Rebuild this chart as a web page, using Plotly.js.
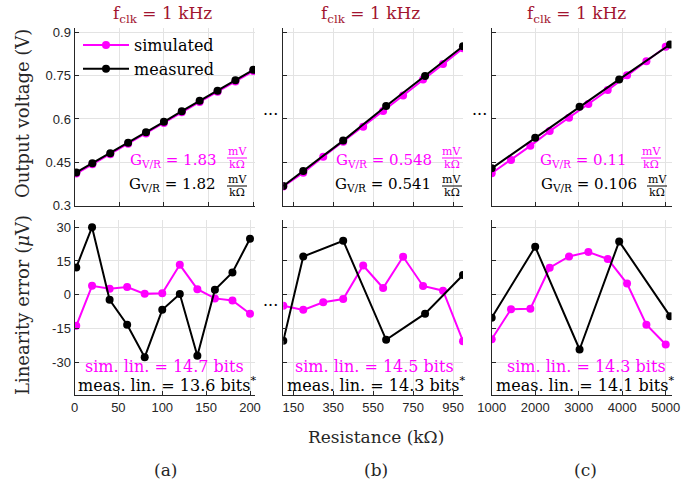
<!DOCTYPE html>
<html>
<head>
<meta charset="utf-8">
<script src="https://cdn.plot.ly/plotly-3.0.1.min.js"></script>
<style>html,body{margin:0;padding:0;background:#fff;}#chart{width:689px;height:487px;}</style>
</head>
<body>
<div id="chart"></div>
<script>
// ---------- data ----------
const xA = [2, 20, 40, 60, 80, 100, 120, 140, 160, 180, 200];
const voutSimA  = [0.411, 0.443, 0.478, 0.514, 0.550, 0.586, 0.623, 0.659, 0.694, 0.730, 0.766];
const voutMeasA = [0.415, 0.447, 0.481, 0.518, 0.554, 0.590, 0.627, 0.663, 0.698, 0.734, 0.770];
const errSimA  = [-13.8, 4.0, 2.7, 3.4, 0.4, 0.7, 13.3, 2.5, -1.6, -2.5, -8.4];
const errMeasA = [12.1, 30.0, -2.2, -13.3, -27.7, -6.7, 0.3, -27.1, 2.2, 9.9, 24.9];

const xSimB  = [100, 200, 300, 400, 500, 600, 700, 800, 900, 1000];
const xMeasB = [100, 200, 400, 615, 810, 1000];
const voutSimB  = [0.366, 0.414, 0.469, 0.521, 0.573, 0.628, 0.681, 0.737, 0.790, 0.845];
const voutMeasB = [0.368, 0.420, 0.525, 0.645, 0.749, 0.852];
const errSimB  = [-4.9, -6.7, -3.3, -1.9, 13.0, 3.0, 16.9, 3.9, 1.8, -20.6];
const errMeasB = [-20.4, 17.0, 24.0, -20.0, -8.4, 8.8];

const xSimC  = [1000, 1444, 1889, 2333, 2778, 3222, 3667, 4111, 4556, 5000];
const xMeasC = [1000, 2000, 3020, 3930, 5100];
const voutSimC  = [0.412, 0.458, 0.507, 0.558, 0.604, 0.652, 0.700, 0.751, 0.800, 0.850];
const voutMeasC = [0.429, 0.535, 0.642, 0.737, 0.858];
const errSimC  = [-19.7, -6.4, -6.2, 12.0, 17.0, 19.0, 15.9, 5.0, -13.3, -22.1];
const errMeasC = [-10.2, 21.3, -24.3, 23.7, -9.5];

const gainSim  = ['1.83', '0.548', '0.11'];
const gainMeas = ['1.82', '0.541', '0.106'];
const linSim  = ['14.7', '14.5', '14.3'];
const linMeas = ['13.6', '14.3', '14.1'];

const voutTicks = [0.3, 0.45, 0.6, 0.75, 0.9];
const voutTickText = ['0.3', '0.45', '0.6', '0.75', '0.9'];
const errTicks = [-30, -15, 0, 15, 30];
const errTickText = ['-30', '-15', '0', '15', '30'];
const xTicksA = [0, 50, 100, 150, 200];
const xTicksB = [150, 350, 550, 750, 950];
const xTicksC = [1000, 2000, 3000, 4000, 5000];

// ---------- styling ----------
const W = 689, H = 487;
const px = v => v / W;
const py = v => 1 - v / H;
const SERIF = 'DejaVu Serif, serif';
const SANS = 'Liberation Sans, Arial, sans-serif';
const MAG = '#ff00ff', BLK = '#000000', AX = '#262626', TITLE = '#A2142F', GRID = '#e3e3e3';

function trace(x, y, color, xa, ya, name, show) {
  return {x: x, y: y, xaxis: xa, yaxis: ya, type: 'scatter', mode: 'lines+markers',
    name: name, showlegend: show, legendgroup: name,
    line: {color: color, width: 2}, marker: {color: color, size: 8}};
}

const data = [
  trace(xA, voutSimA, MAG, 'x', 'y', 'simulated', true),
  trace(xA, voutMeasA, BLK, 'x', 'y', 'measured', true),
  trace(xSimB, voutSimB, MAG, 'x2', 'y2', 'simulated', false),
  trace(xMeasB, voutMeasB, BLK, 'x2', 'y2', 'measured', false),
  trace(xSimC, voutSimC, MAG, 'x3', 'y3', 'simulated', false),
  trace(xMeasC, voutMeasC, BLK, 'x3', 'y3', 'measured', false),
  trace(xA, errSimA, MAG, 'x4', 'y4', 'simulated', false),
  trace(xA, errMeasA, BLK, 'x4', 'y4', 'measured', false),
  trace(xSimB, errSimB, MAG, 'x5', 'y5', 'simulated', false),
  trace(xMeasB, errMeasB, BLK, 'x5', 'y5', 'measured', false),
  trace(xSimC, errSimC, MAG, 'x6', 'y6', 'simulated', false),
  trace(xMeasC, errMeasC, BLK, 'x6', 'y6', 'measured', false)
];

const colA = [px(74.5), px(255)];
const colB = [px(283.3), px(463)];
const colC = [px(491.7), px(671.5)];
const rowTop = [py(205.6), py(28)];
const rowBot = [py(395), py(220)];

function xax(dom, range, ticks, anchor, labels) {
  return {domain: dom, range: range, anchor: anchor, tickmode: 'array', tickvals: ticks,
    ticktext: ticks.map(String), showticklabels: labels,
    ticks: 'inside', ticklen: 4, tickwidth: 1, tickcolor: AX,
    showline: true, linecolor: AX, linewidth: 1, mirror: false,
    showgrid: true, gridcolor: GRID, gridwidth: 1, zeroline: false,
    tickfont: {family: SANS, size: 13, color: AX}, fixedrange: true};
}
function yax(dom, range, ticks, text, anchor, labels) {
  return {domain: dom, range: range, anchor: anchor, tickmode: 'array', tickvals: ticks,
    ticktext: text, showticklabels: labels,
    ticks: 'inside', ticklen: 4, tickwidth: 1, tickcolor: AX,
    showline: true, linecolor: AX, linewidth: 1, mirror: false,
    showgrid: true, gridcolor: GRID, gridwidth: 1, zeroline: false,
    tickfont: {family: SANS, size: 13, color: AX}, fixedrange: true};
}

const annotations = [];
const shapes = [];
function ann(text, x, y, opts) {
  annotations.push(Object.assign({text: text, x: px(x), y: py(y), xref: 'paper', yref: 'paper',
    showarrow: false, xanchor: 'center', yanchor: 'middle',
    font: {family: SERIF, size: 17, color: AX}}, opts || {}));
}

// column titles
[162, 370, 576].forEach(cx => ann('f<sub>clk</sub> = 1 kHz', cx, 15, {font: {family: SERIF, size: 17, color: TITLE}}));
// axis titles
ann('Output voltage (V)', 22, 114, {textangle: -90, font: {family: SERIF, size: 18, color: AX}});
ann('Linearity error (<i>μ</i>V)', 22, 305, {textangle: -90, font: {family: SERIF, size: 18, color: AX}});
ann('Resistance (kΩ)', 376, 437, {font: {family: SERIF, size: 17, color: AX}});
ann('(a)', 165, 470);
ann('(b)', 376, 470);
ann('(c)', 585, 470);
// continuation dots
ann('···', 270, 114, {font: {family: SERIF, size: 16, color: BLK}});
ann('···', 479, 114, {font: {family: SERIF, size: 16, color: BLK}});
ann('···', 270, 305, {font: {family: SERIF, size: 16, color: BLK}});

// gain annotations with fraction units
const gainPos = [
  {mainR: [219, 218], frac: [237, 237]},
  {mainR: [434, 433], frac: [452, 452]},
  {mainR: [629, 639], frac: [651, 657]}
];
function gain(value, color, rightX, fracX, yMid, yFrac) {
  ann('G<sub>V/R</sub> = ' + value, rightX, yMid, {xanchor: 'right', font: {family: SERIF, size: 15, color: color}});
  ann('mV', fracX, yFrac - 6.5, {font: {family: SERIF, size: 11, color: color}});
  ann('kΩ', fracX, yFrac + 6.5, {font: {family: SERIF, size: 11, color: color}});
  shapes.push({type: 'line', xref: 'paper', yref: 'paper', x0: px(fracX - 10), x1: px(fracX + 10),
    y0: py(yFrac), y1: py(yFrac), line: {color: color, width: 1}});
}
for (let i = 0; i < 3; i++) {
  gain(gainSim[i], MAG, gainPos[i].mainR[0], gainPos[i].frac[0], 160, 158);
  gain(gainMeas[i], BLK, gainPos[i].mainR[1], gainPos[i].frac[1], 184, 186);
}
// linearity annotations
const linPos = [[164, 166.5], [374, 376], [586, 585]];
for (let i = 0; i < 3; i++) {
  ann('sim. lin. = ' + linSim[i] + ' bits', linPos[i][0], 366, {font: {family: SERIF, size: 16, color: MAG}});
  ann('meas. lin. = ' + linMeas[i] + ' bits<sup>*</sup>', linPos[i][1], 384, {font: {family: SERIF, size: 16, color: BLK}});
}

const layout = {
  width: W, height: H, margin: {l: 0, r: 0, t: 0, b: 0},
  paper_bgcolor: '#ffffff', plot_bgcolor: 'rgba(0,0,0,0)',
  showlegend: true,
  legend: {x: px(78), y: py(28), xanchor: 'left', yanchor: 'top', bgcolor: 'rgba(0,0,0,0)',
    borderwidth: 0, itemwidth: 46, font: {family: SERIF, size: 16, color: BLK}, tracegroupgap: 0},
  xaxis: xax(colA, [0, 201.9], xTicksA, 'y', false),
  xaxis2: xax(colB, [100, 1000], xTicksB, 'y2', false),
  xaxis3: xax(colC, [1000, 5133], xTicksC, 'y3', false),
  xaxis4: xax(colA, [0, 205.7], xTicksA, 'y4', true),
  xaxis5: xax(colB, [100, 1000], xTicksB, 'y5', true),
  xaxis6: xax(colC, [1000, 5133], xTicksC, 'y6', true),
  yaxis: yax(rowTop, [0.3, 0.915], voutTicks, voutTickText, 'x', true),
  yaxis2: yax(rowTop, [0.3, 0.915], voutTicks, voutTickText, 'x2', false),
  yaxis3: yax(rowTop, [0.3, 0.915], voutTicks, voutTickText, 'x3', false),
  yaxis4: yax(rowBot, [-44.5, 33.2], errTicks, errTickText, 'x4', true),
  yaxis5: yax(rowBot, [-44.5, 33.2], errTicks, errTickText, 'x5', false),
  yaxis6: yax(rowBot, [-44.5, 33.2], errTicks, errTickText, 'x6', false),
  annotations: annotations,
  shapes: shapes
};

Plotly.newPlot('chart', data, layout, {displayModeBar: false, staticPlot: true});
</script>
</body>
</html>
